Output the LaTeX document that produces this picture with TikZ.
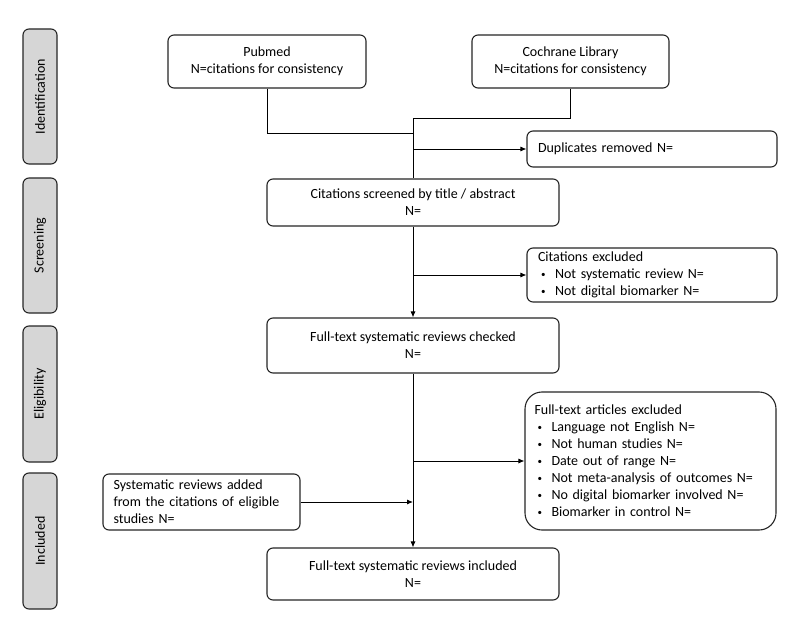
\documentclass[tikz,border=0pt]{standalone}
\usepackage{fontspec}
\setmainfont{Carlito}
\usetikzlibrary{arrows.meta}
\definecolor{bordc}{HTML}{262626}
\definecolor{sidec}{HTML}{D6D6D6}
\tikzset{
  box/.style={draw=bordc, line width=1.1bp, rounded corners=6bp, inner sep=0pt,
     font=\fontsize{14bp}{17bp}\selectfont},
  cbox/.style={box, align=center},
  lbox/.style={box, align=left},
  side/.style={draw=bordc, fill=sidec, line width=1.1bp, rounded corners=6bp,
     inner sep=0pt, rotate=90, font=\fontsize{14bp}{17bp}\selectfont},
  conn/.style={draw=black, line width=0.9bp},
  arr/.style={conn, -{Latex[length=6bp,width=5bp]}},
}
\newcommand{\bul}[1]{\hspace*{3bp}\makebox[14bp][l]{\raisebox{1.5bp}{\fontsize{9bp}{9bp}\selectfont •}}#1}
\begin{document}
\begin{tikzpicture}[x=1bp,y=-1bp]
\useasboundingbox[fill=white] (0,0) rectangle (800,635);
% side labels
\node[side, minimum width=135bp, minimum height=34bp] (sid) at (40,96.5) {Identification};
\node[side, minimum width=135bp, minimum height=34bp] (ssc) at (40,245.5) {Screening};
\node[side, minimum width=136bp, minimum height=34bp] (sel) at (40,394) {Eligibility};
\node[side, minimum width=136bp, minimum height=34bp] (sin) at (40,541) {Included};
% main boxes
\node[cbox, minimum width=198bp, minimum height=53bp] (pub) at (267,61.5) {Pubmed\\N=citations for consistency};
\node[cbox, minimum width=197bp, minimum height=53bp] (coc) at (570.5,61.5) {Cochrane Library\\N=citations for consistency};
\node[lbox, minimum width=250bp, minimum height=36bp, text width=228bp] (dup) at (652,149) {Duplicates removed N=};
\node[cbox, minimum width=292bp, minimum height=47bp] (scr) at (413,202.5) {Citations screened by title / abstract\\N=};
\node[lbox, minimum width=250bp, minimum height=54bp, text width=228bp] (cex) at (652,275) {Citations excluded\\\bul{Not systematic review N=}\\\bul{Not digital biomarker N=}};
\node[cbox, minimum width=292bp, minimum height=55bp] (chk) at (413,345.5) {Full-text systematic reviews checked\\N=};
\node[lbox, rounded corners=17bp, minimum width=251bp, minimum height=138bp, text width=232bp] (fex) at (650.5,461) {Full-text articles excluded\\\bul{Language not English N=}\\\bul{Not human studies N=}\\\bul{Date out of range N=}\\\bul{Not meta-analysis of outcomes N=}\\\bul{No digital biomarker involved N=}\\\bul{Biomarker in control N=}};
\node[lbox, minimum width=197bp, minimum height=56bp, text width=176bp] (add) at (201.5,502) {Systematic reviews added\\from the citations of eligible\\studies N=};
\node[cbox, minimum width=292bp, minimum height=52bp] (inc) at (413,574) {Full-text systematic reviews included\\N=};
% junction coordinates
\coordinate (jA) at (413,133);
\coordinate (jB) at (413,118);
\coordinate (jD) at (413,149);
\coordinate (jC) at (413,275);
\coordinate (jF) at (413,461);
\coordinate (jG) at (413,502);
% connectors
\draw[conn] (pub.south) |- (jA);
\draw[conn] (coc.south) |- (jB) -- (scr.north);
\draw[arr] (jD) -- (dup.west);
\draw[arr] (scr.south) -- (chk.north);
\draw[arr] (jC) -- (cex.west);
\draw[arr] (chk.south) -- (inc.north);
\draw[arr] (jF) -- (fex.west);
\draw[arr] (add.east) -- (jG);
\end{tikzpicture}
\end{document}
